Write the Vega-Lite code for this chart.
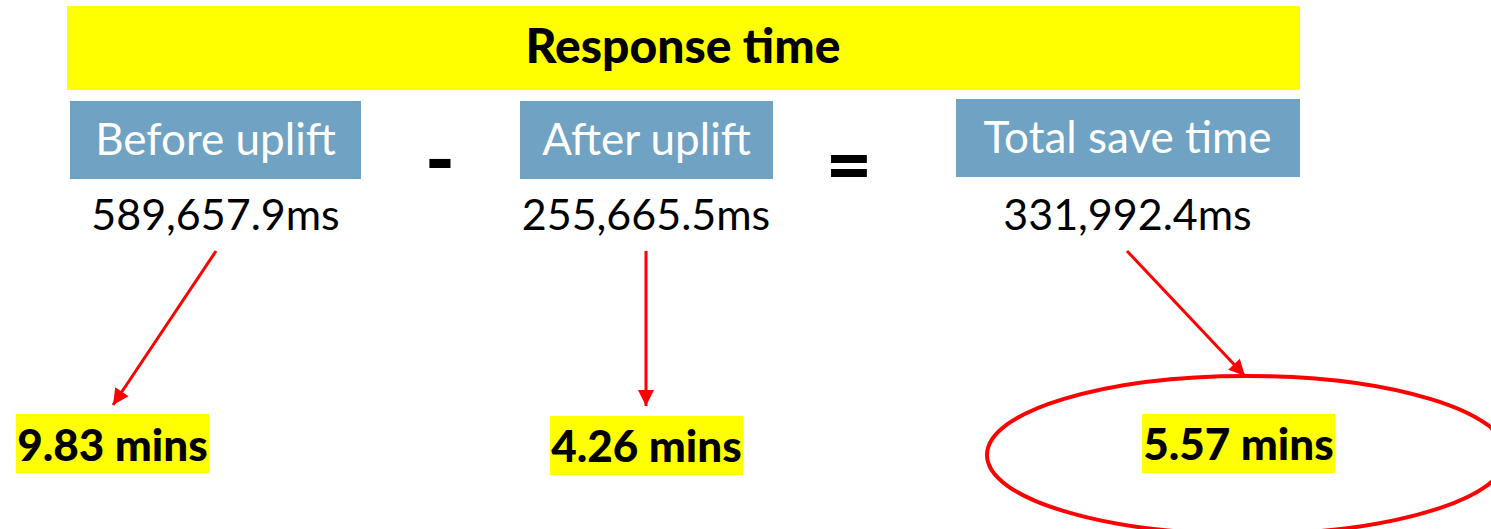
{
  "$schema": "https://vega.github.io/schema/vega-lite/v6.json",
  "width": 1491,
  "height": 529,
  "padding": 0,
  "autosize": {"type": "fit", "contains": "padding"},
  "background": "white",
  "config": {"view": {"stroke": null}, "axis": {"disable": true}},
  "datasets": {
    "banner": [{"text": "Response time", "x": 67, "x2": 1300, "y": 6, "y2": 90}],
    "bannerText": [{"text": "Response time", "x": 683, "y": 63}],
    "headerBoxes": [
      {"label": "Before uplift", "x": 70, "x2": 361, "y": 101, "y2": 179},
      {"label": "After uplift", "x": 520, "x2": 773, "y": 101, "y2": 179},
      {"label": "Total save time", "x": 956, "x2": 1300, "y": 99, "y2": 177}
    ],
    "headerText": [
      {"text": "Before uplift", "x": 215.5, "y": 155},
      {"text": "After uplift", "x": 646.5, "y": 155},
      {"text": "Total save time", "x": 1127.5, "y": 153}
    ],
    "values": [
      {"text": "589,657.9ms", "x": 215.5, "y": 230},
      {"text": "255,665.5ms", "x": 646, "y": 230},
      {"text": "331,992.4ms", "x": 1127.5, "y": 230}
    ],
    "operators": [
      {"text": "-", "x": 440, "y": 188},
      {"text": "=", "x": 849, "y": 193}
    ],
    "arrows": [
      {"from": "Before uplift", "x": 216, "y": 251, "x2": 113, "y2": 405},
      {"from": "After uplift", "x": 646, "y": 251, "x2": 646, "y2": 406},
      {"from": "Total save time", "x": 1127, "y": 251, "x2": 1245, "y2": 376}
    ],
    "highlights": [
      {"label": "9.83 mins", "x": 16, "x2": 209, "y": 414, "y2": 473},
      {"label": "4.26 mins", "x": 550, "x2": 743, "y": 416, "y2": 475},
      {"label": "5.57 mins", "x": 1142, "x2": 1335, "y": 414, "y2": 473}
    ],
    "mins": [
      {"text": "9.83 mins", "x": 112.5, "y": 461},
      {"text": "4.26 mins", "x": 646.5, "y": 462},
      {"text": "5.57 mins", "x": 1238.5, "y": 460}
    ],
    "ellipse": [{"label": "5.57 mins", "x": 1247, "y": 455}]
  },
  "encoding": {
    "x": {"field": "x", "type": "quantitative", "axis": null, "scale": {"domain": [0, 1491], "nice": false, "zero": false}},
    "y": {"field": "y", "type": "quantitative", "axis": null, "scale": {"domain": [0, 529], "nice": false, "zero": false, "reverse": true}}
  },
  "layer": [
    {
      "data": {"name": "banner"},
      "mark": {"type": "rect", "fill": "#FFFF00"},
      "encoding": {"x2": {"field": "x2"}, "y2": {"field": "y2"}}
    },
    {
      "data": {"name": "bannerText"},
      "mark": {"type": "text", "font": "Lato", "fontWeight": 900, "fontSize": 48, "align": "center", "baseline": "alphabetic", "color": "#000000"},
      "encoding": {"text": {"field": "text"}}
    },
    {
      "data": {"name": "headerBoxes"},
      "mark": {"type": "rect", "fill": "#6FA2C3"},
      "encoding": {"x2": {"field": "x2"}, "y2": {"field": "y2"}}
    },
    {
      "data": {"name": "headerText"},
      "mark": {"type": "text", "font": "Lato", "fontSize": 44, "align": "center", "baseline": "alphabetic", "color": "#FFFFFF"},
      "encoding": {"text": {"field": "text"}}
    },
    {
      "data": {"name": "values"},
      "mark": {"type": "text", "font": "Lato", "fontSize": 43, "align": "center", "baseline": "alphabetic", "color": "#000000"},
      "encoding": {"text": {"field": "text"}}
    },
    {
      "data": {"name": "operators"},
      "mark": {"type": "text", "font": "Lato", "fontWeight": 900, "fontSize": 80, "align": "center", "baseline": "alphabetic", "color": "#000000"},
      "encoding": {"text": {"field": "text"}}
    },
    {
      "data": {"name": "arrows"},
      "mark": {"type": "rule", "color": "#FF0000", "strokeWidth": 3},
      "encoding": {"x2": {"field": "x2"}, "y2": {"field": "y2"}}
    },
    {
      "data": {"name": "arrows"},
      "transform": [{"calculate": "atan2(datum.x2 - datum.x, -(datum.y2 - datum.y)) * 180 / PI", "as": "angle"}],
      "mark": {"type": "point", "shape": "M 0 0 L -0.5 1 L 0.5 1 Z", "filled": true, "color": "#FF0000", "opacity": 1, "size": 1024},
      "encoding": {
        "x": {"field": "x2", "type": "quantitative", "axis": null},
        "y": {"field": "y2", "type": "quantitative", "axis": null},
        "angle": {"field": "angle", "type": "quantitative", "scale": null}
      }
    },
    {
      "data": {"name": "highlights"},
      "mark": {"type": "rect", "fill": "#FFFF00"},
      "encoding": {"x2": {"field": "x2"}, "y2": {"field": "y2"}}
    },
    {
      "data": {"name": "mins"},
      "mark": {"type": "text", "font": "Lato", "fontWeight": 900, "fontSize": 44, "align": "center", "baseline": "alphabetic", "color": "#000000"},
      "encoding": {"text": {"field": "text"}}
    },
    {
      "data": {"name": "ellipse"},
      "mark": {"type": "point", "clip": true, "shape": "M 1 0 C 1 0.1679 0.5523 0.304 0 0.304 C -0.5523 0.304 -1 0.1679 -1 0 C -1 -0.1679 -0.5523 -0.304 0 -0.304 C 0.5523 -0.304 1 -0.1679 1 0 Z", "filled": false, "color": "#FF0000", "strokeWidth": 4, "opacity": 1, "size": 270400}
    }
  ]
}
